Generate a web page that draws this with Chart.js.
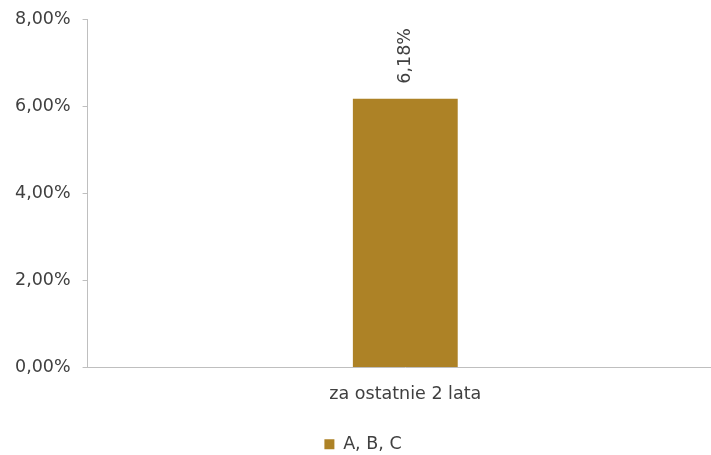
<!DOCTYPE html>
<html>
<head>
<meta charset="utf-8">
<script src="https://cdn.jsdelivr.net/npm/chart.js@4.4.1/dist/chart.umd.min.js"></script>
<style>
  html, body { margin: 0; padding: 0; background: #fff; overflow: hidden; }
  #wrap { position: absolute; left: 0; top: -3px; width: 730px; height: 466px; }
</style>
</head>
<body>
<div id="wrap"><canvas id="bar-chart"></canvas></div>
<script>
const categories = ["za ostatnie 2 lata"];
const seriesName = "A, B, C";
const seriesValues = [6.18];
const yTicks = [0, 2, 4, 6, 8];

const gold = "#AD8226";
const fontFamily = "'DejaVu Sans'";
const fmt = (v) => v.toFixed(2).replace(".", ",") + "%";

// rotated value label above each bar
const valueLabels = {
  id: "valueLabels",
  afterDatasetsDraw(chart) {
    const ctx = chart.ctx;
    const meta = chart.getDatasetMeta(0);
    meta.data.forEach((bar, i) => {
      ctx.save();
      ctx.translate(bar.x, bar.y - 15);
      ctx.rotate(-Math.PI / 2);
      ctx.font = "17.5px " + fontFamily;
      ctx.fillStyle = "#404040";
      ctx.textAlign = "left";
      ctx.textBaseline = "middle";
      ctx.fillText(fmt(seriesValues[i]), 0, 0);
      ctx.restore();
    });
  }
};

new Chart(document.getElementById("bar-chart"), {
  type: "bar",
  data: {
    labels: categories,
    datasets: [{
      label: seriesName,
      data: seriesValues,
      backgroundColor: gold,
      barPercentage: 0.33,
      categoryPercentage: 0.5,
    }]
  },
  options: {
    responsive: true,
    maintainAspectRatio: false,
    animation: false,
    layout: { padding: { top: 0, left: 3, right: 7, bottom: 0 } },
    scales: {
      y: {
        min: 0,
        max: 8,
        afterBuildTicks: (axis) => { axis.ticks = yTicks.map(v => ({ value: v })); },
        grid: { drawOnChartArea: false, drawTicks: true, tickLength: 5, color: "#BFBFBF" },
        border: { color: "#BFBFBF" },
        ticks: {
          callback: (v) => fmt(v),
          color: "#404040",
          padding: 12,
          font: { family: fontFamily, size: 17.5 }
        }
      },
      x: {
        grid: { display: false },
        border: { color: "#BFBFBF" },
        ticks: {
          color: "#404040",
          padding: 8,
          font: { family: fontFamily, size: 17.5 }
        }
      }
    },
    plugins: {
      legend: {
        position: "bottom",
        labels: {
          boxWidth: 10,
          boxHeight: 10,
          color: "#404040",
          padding: 23,
          font: { family: fontFamily, size: 17.5 }
        }
      },
      tooltip: { enabled: false }
    }
  },
  plugins: [valueLabels]
});
</script>
</body>
</html>
